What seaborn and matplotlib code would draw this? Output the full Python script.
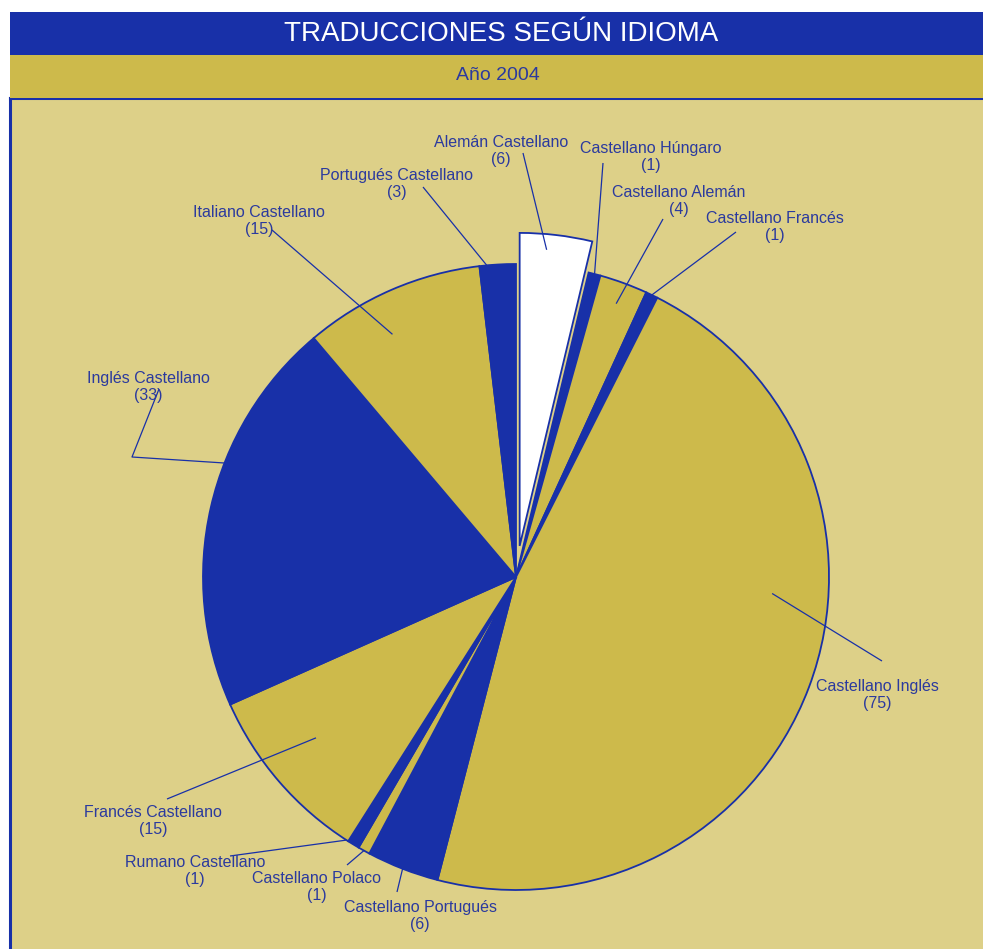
import numpy as np
import matplotlib
matplotlib.use("Agg")
import matplotlib.pyplot as plt
from matplotlib.patches import Rectangle
import seaborn as sns

categories = ["Alemán Castellano", "Castellano Húngaro", "Castellano Alemán", "Castellano Francés",
              "Castellano Inglés", "Castellano Portugués", "Castellano Polaco", "Rumano Castellano",
              "Francés Castellano", "Inglés Castellano", "Italiano Castellano", "Portugués Castellano"]
values = [6, 1, 4, 1, 75, 6, 1, 1, 15, 33, 15, 3]

title = "TRADUCCIONES SEGÚN IDIOMA"
subtitle = "Año 2004"

BLUE = "#1830a8"
GOLD = "#cdba4b"
BG = "#ddd088"
TXT = "#2b3a9e"

W, H = 983, 949
CX, CY, R = 516, 577, 313  # pie centre / radius in pixels

# label layout in pixels: text centre, leader end, anchor radius, angle shift
label_xy = [(501, 151), (651, 157), (679, 201), (775, 227), (877, 695), (420, 916),
            (317, 887), (195, 871), (153, 821), (148, 387), (259, 221), (397, 184)]
line_end = [(523, 153), (603, 163), (663, 219), (736, 232), (882, 661), (397, 892),
            (347, 865), (230, 856), (167, 799), (159, 389), (272, 230), (423, 187)]
anchor_r = [0.95, 1.0, 0.93, 1.0, 0.82, 1.0, 1.0, 1.0, 0.82, 1.0, 0.87, 1.0]
anchor_shift = [1.5, 0, 0, 0, 17, 0, 0, -1.5, -2, -8.5, 3.5, 2]
elbows = {9: (132, 457)}


def px(p):
    return ((p[0] - CX) / R, (CY - p[1]) / R)


sns.set_style("white")
plt.rcParams["font.family"] = ["Liberation Sans", "DejaVu Sans"]

fig = plt.figure(figsize=(W / 100, H / 100), dpi=100)
fig.patch.set_facecolor("white")

# header bars
fig.patches.append(Rectangle((10 / W, (H - 55) / H), 1, 43 / H, transform=fig.transFigure,
                             facecolor=BLUE, edgecolor="none"))
fig.patches.append(Rectangle((10 / W, (H - 98) / H), 1, 43 / H, transform=fig.transFigure,
                             facecolor=GOLD, edgecolor="none"))
fig.text(501 / W, 1 - 34 / H, title, color="white", fontsize=20, ha="center", va="center")
fig.text(498 / W, 1 - 76 / H, subtitle, color=TXT, fontsize=14, ha="center", va="center")

ax = fig.add_axes([10 / W, 0, (W - 10) / W, (H - 98) / H])
ax.set_facecolor(BG)

colors = ["white"] + [BLUE if i % 2 == 1 else GOLD for i in range(1, len(values))]
explode = [0.1] + [0] * (len(values) - 1)

wedges, _ = ax.pie(values, colors=colors, explode=explode, startangle=90, counterclock=False,
                   radius=1, frame=True, wedgeprops=dict(edgecolor=BLUE, linewidth=1.3))

for i, w in enumerate(wedges):
    ang = np.deg2rad((w.theta1 + w.theta2) / 2 + anchor_shift[i])
    cx, cy = w.center
    ax0 = cx + anchor_r[i] * w.r * np.cos(ang)
    ay0 = cy + anchor_r[i] * w.r * np.sin(ang)
    pts = [(ax0, ay0)]
    if i in elbows:
        pts.append(px(elbows[i]))
    pts.append(px(line_end[i]))
    xs, ys = zip(*pts)
    ax.plot(xs, ys, color=BLUE, lw=0.9, solid_capstyle="butt")
    tx, ty = px(label_xy[i])
    ax.text(tx, ty, f"{categories[i]}\n({values[i]})", ha="center", va="center",
            fontsize=11.5, color=TXT, linespacing=1.22)

ax.set_aspect("auto")
ax.set_xlim((10 - CX) / R, (W - CX) / R)
ax.set_ylim((CY - H) / R, (CY - 98) / R)
ax.set_xticks([])
ax.set_yticks([])
for s in ["right", "bottom"]:
    ax.spines[s].set_visible(False)
for s in ["left", "top"]:
    ax.spines[s].set_visible(True)
    ax.spines[s].set_color(BLUE)
    ax.spines[s].set_linewidth(2.2)

fig.savefig("out.png", dpi=100)
